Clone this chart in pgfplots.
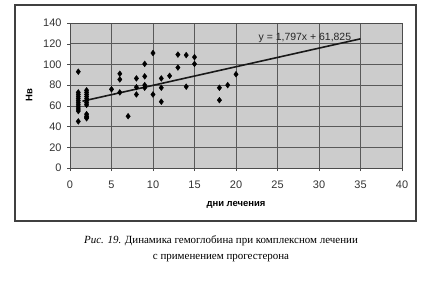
\documentclass[border=0pt]{standalone}
\usepackage{pgfplots}
\pgfplotsset{compat=1.18}
\usepackage{fontspec}
\setmainfont{Liberation Sans}
\newfontfamily\capfont{Liberation Serif}
\begin{document}
\begin{tikzpicture}[x=1bp,y=1bp]
\path[use as bounding box] (0,0) rectangle (443,290);
\draw[line width=1.1bp, black!75] (15,69) rectangle (416,285);
\begin{axis}[
  at={(70bp,122bp)}, anchor=south west,
  scale only axis, width=332bp, height=145bp,
  xmin=0, xmax=40, ymin=0, ymax=140,
  xtick={0,5,...,40}, ytick={0,20,...,140},
  grid=major,
  major grid style={black!65, line width=0.7bp},
  axis background/.style={fill=black!20},
  axis line style={black!70, line width=0.7bp},
  tick style={black!70},
  tick align=outside, major tick length=3bp,
  xtick pos=bottom, ytick pos=left,
  ticklabel style={font=\fontsize{11}{13}\selectfont, text=black!80},
  xticklabel style={yshift=-6bp},
  yticklabel style={xshift=-2bp},
  /pgf/number format/assume math mode=true,
  xlabel={\textbf{дни лечения}},
  xlabel style={font=\fontsize{9.5}{11}\selectfont, yshift=-6bp},
  ylabel={\textbf{Нв}},
  ylabel style={font=\fontsize{9.5}{11}\selectfont, yshift=4bp},
  clip=false,
]
\addplot[only marks, mark=diamond*, mark size=2.9bp, black] coordinates {
(1,93) (1,73) (1,71) (1,69) (1,67) (1,65) (1,63) (1,61) (1,59) (1,57) (1,55) (1,45)
(2,75) (2,73) (2,71) (2,69) (2,67) (2,65) (2,63) (2,61) (2,52) (2,50) (2,49) (2,48)
(5,76) (6,91) (6,85.5) (6,73) (7,50)
(8,86.5) (8,78) (8,71)
(9,100.5) (9,88.5) (9,80) (9,77.5)
(10,111) (10,71)
(11,86.5) (11,77.5) (11,64)
(12,89) (13,109.5) (13,97) (14,109) (14,78.5) (15,107) (15,100.5)
(18,77.5) (18,65.5) (19,80) (20,90.5)
};
\addplot[black!90, line width=1.6bp, no marks] coordinates {(1.5,64.52) (35,124.72)};
\node[font=\fontsize{10.5}{12}\selectfont, text=black!85, inner sep=0pt] at (axis cs:28.3,125.8) {y = 1,797x + 61,825};
\end{axis}
\node[font=\capfont\fontsize{11}{16}\selectfont, align=center, inner sep=0pt] at (221,41) {\textit{Рис. 19.} Динамика гемоглобина при комплексном лечении\\с применением прогестерона};
\end{tikzpicture}
\end{document}
